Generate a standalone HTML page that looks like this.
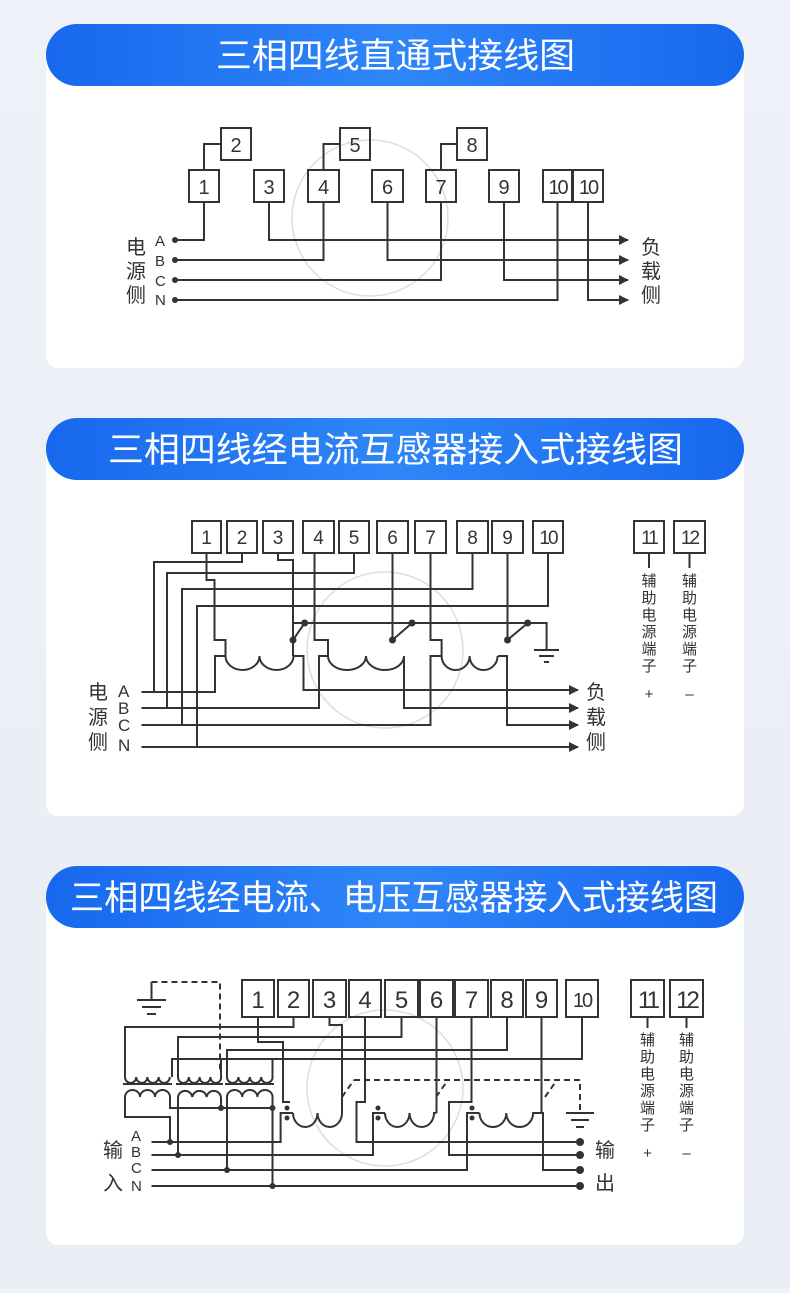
<!DOCTYPE html>
<html><head><meta charset="utf-8"><style>
body{margin:0;width:790px;height:1288px;background:linear-gradient(#eef1f7,#e9edf4);font-family:"Liberation Sans","Noto Sans CJK SC",sans-serif;overflow:hidden}
</style></head><body>
<svg width="790" height="1288" viewBox="0 0 790 1288" xmlns="http://www.w3.org/2000/svg" font-family="'Liberation Sans','Noto Sans CJK SC',sans-serif">
<defs>
<linearGradient id="hg" x1="0" x2="1" y1="0" y2="0"><stop offset="0" stop-color="#1768ee"/><stop offset="0.5" stop-color="#2f86f8"/><stop offset="1" stop-color="#1768ee"/></linearGradient>
<marker id="ar" markerWidth="10" markerHeight="10" refX="9" refY="5" orient="auto" markerUnits="userSpaceOnUse"><path d="M0,0 L10,5 L0,10 z" fill="#333"/></marker>
</defs>
<rect x="46" y="50" width="698" height="318" rx="12" fill="#fff"/>
<rect x="46" y="445" width="698" height="371" rx="12" fill="#fff"/>
<rect x="46" y="895" width="698" height="350" rx="12" fill="#fff"/>
<rect x="46" y="24" width="698" height="62" rx="31" fill="url(#hg)"/>
<text x="216" y="68" font-size="35" fill="#fff" textLength="359" lengthAdjust="spacingAndGlyphs">三相四线直通式接线图</text>
<rect x="46" y="418" width="698" height="62" rx="31" fill="url(#hg)"/>
<text x="108" y="462" font-size="35" fill="#fff" textLength="575" lengthAdjust="spacingAndGlyphs">三相四线经电流互感器接入式接线图</text>
<rect x="46" y="866" width="698" height="62" rx="31" fill="url(#hg)"/>
<text x="70" y="910" font-size="35" fill="#fff" textLength="648" lengthAdjust="spacingAndGlyphs">三相四线经电流、电压互感器接入式接线图</text>

<g fill="none" stroke="#ddd" stroke-width="1.5">
<circle cx="370" cy="218" r="78"/><circle cx="385" cy="650" r="78"/><circle cx="385" cy="1088" r="78"/>
</g>

<!-- Diagram 1 -->
<g fill="none" stroke="#333" stroke-width="2">
<rect x="189" y="170" width="30" height="32"/><rect x="221" y="128" width="30" height="32"/>
<rect x="254" y="170" width="30" height="32"/><rect x="308" y="170" width="31" height="32"/>
<rect x="340" y="128" width="30" height="32"/><rect x="372" y="170" width="31" height="32"/>
<rect x="426" y="170" width="30" height="32"/><rect x="457" y="128" width="30" height="32"/>
<rect x="489" y="170" width="30" height="32"/><rect x="543" y="170" width="29" height="32"/>
<rect x="573" y="170" width="30" height="32"/>
<path d="M204 170V144H221M204 202V240H175M323.5 170V144H340M323.5 202V260H175M441 170V144H457M441 202V280H175M557.5 202V300H175"/>
<path d="M269 202V240H628" marker-end="url(#ar)"/>
<path d="M387.5 202V260H628" marker-end="url(#ar)"/>
<path d="M504 202V280H628" marker-end="url(#ar)"/>
<path d="M588 202V300H628" marker-end="url(#ar)"/>
</g>
<g fill="#333"><circle cx="175" cy="240" r="3"/><circle cx="175" cy="260" r="3"/><circle cx="175" cy="280" r="3"/><circle cx="175" cy="300" r="3"/></g>
<g font-size="20" fill="#333" text-anchor="middle">
<text x="204" y="194">1</text><text x="236" y="152">2</text><text x="269" y="194">3</text><text x="323.5" y="194">4</text><text x="355" y="152">5</text><text x="387.5" y="194">6</text><text x="441" y="194">7</text><text x="472" y="152">8</text><text x="504" y="194">9</text><text x="557.5" y="194" letter-spacing="-2">10</text><text x="588" y="194" letter-spacing="-2">10</text>
</g>
<g font-size="20" fill="#333"><text x="126" y="254">电</text><text x="126" y="278">源</text><text x="126" y="302">侧</text>
<text x="641" y="254">负</text><text x="641" y="278">载</text><text x="641" y="302">侧</text></g>
<g font-size="15" fill="#333"><text x="155" y="246">A</text><text x="155" y="266">B</text><text x="155" y="286">C</text><text x="155" y="305">N</text></g>

<!-- Diagram 2 -->
<g fill="none" stroke="#333" stroke-width="2">
<rect x="192" y="521" width="29" height="32"/><rect x="227" y="521" width="30" height="32"/><rect x="263" y="521" width="30" height="32"/><rect x="303" y="521" width="31" height="32"/><rect x="339" y="521" width="30" height="32"/><rect x="377" y="521" width="31" height="32"/><rect x="415" y="521" width="31" height="32"/><rect x="457" y="521" width="31" height="32"/><rect x="492" y="521" width="31" height="32"/><rect x="533" y="521" width="30" height="32"/>
<rect x="634" y="521" width="30" height="32"/><rect x="674" y="521" width="31" height="32"/>
<path d="M649 553V568M689.5 553V568"/>
<path d="M206.5 553V580H214.5V640H225.5V656M141.5 692H215V656H225.5"/>
<path d="M225.5 656a17 14 0 0 0 34 0a17 14 0 0 0 34 0"/>
<path d="M278 553V560H293V640M293 656V640M293 623H546.6V650M534 650H559M539 656H554M544 662H549M293 640L304.7 623"/>
<path d="M314.5 553V640H328V656M141.5 708H319V656H328"/>
<path d="M328 656a19 14 0 0 0 38 0a19 14 0 0 0 38 0"/>
<path d="M392.5 553V640L412 623"/>
<path d="M430.5 553V640H441.6V656M141.5 725H430.5V656H441.6"/>
<path d="M441.6 656a14 14 0 0 0 28 0a14 14 0 0 0 28 0"/>
<path d="M507.5 553V640L527.7 623"/>
<path d="M242 553V562H154V692M354 553V573H167V708M472.5 553V589H182V725M548 553V606H197V747"/>
<path d="M293 656H303.5V690H578" marker-end="url(#ar)"/>
<path d="M404 656V708H578" marker-end="url(#ar)"/>
<path d="M498 656H507V725H578" marker-end="url(#ar)"/>
<path d="M141.5 747H578" marker-end="url(#ar)"/>
</g>
<g fill="#333"><circle cx="293" cy="640" r="3.5"/><circle cx="304.7" cy="623" r="3.5"/><circle cx="392.5" cy="640" r="3.5"/><circle cx="412" cy="623" r="3.5"/><circle cx="507.5" cy="640" r="3.5"/><circle cx="527.7" cy="623" r="3.5"/></g>
<g font-size="19" fill="#333" text-anchor="middle">
<text x="206.5" y="544">1</text><text x="242" y="544">2</text><text x="278" y="544">3</text><text x="318.5" y="544">4</text><text x="354" y="544">5</text><text x="392.5" y="544">6</text><text x="430.5" y="544">7</text><text x="472.5" y="544">8</text><text x="507.5" y="544">9</text><text x="548" y="544" letter-spacing="-2">10</text><text x="649" y="544" letter-spacing="-2">11</text><text x="689.5" y="544" letter-spacing="-2">12</text>
</g>
<g font-size="15" fill="#333" text-anchor="middle">
<text x="649" y="586">辅</text><text x="649" y="603">助</text><text x="649" y="620">电</text><text x="649" y="637">源</text><text x="649" y="654">端</text><text x="649" y="671">子</text><text x="649" y="699">+</text>
<text x="689.5" y="586">辅</text><text x="689.5" y="603">助</text><text x="689.5" y="620">电</text><text x="689.5" y="637">源</text><text x="689.5" y="654">端</text><text x="689.5" y="671">子</text><text x="689.5" y="699">–</text>
</g>
<g font-size="20" fill="#333"><text x="88" y="699">电</text><text x="88" y="724">源</text><text x="88" y="749">侧</text>
<text x="586" y="699">负</text><text x="586" y="724">载</text><text x="586" y="749">侧</text></g>
<g font-size="17" fill="#333"><text x="118" y="697">A</text><text x="118" y="714">B</text><text x="118" y="731">C</text><text x="118" y="751">N</text></g>

<!-- Diagram 3 -->
<g fill="none" stroke="#333" stroke-width="2">
<rect x="242" y="980" width="32" height="37"/><rect x="278" y="980" width="31" height="37"/><rect x="313" y="980" width="33" height="37"/><rect x="349" y="980" width="32" height="37"/><rect x="385" y="980" width="33" height="37"/><rect x="420" y="980" width="33" height="37"/><rect x="455" y="980" width="33" height="37"/><rect x="491" y="980" width="32" height="37"/><rect x="526" y="980" width="31" height="37"/><rect x="566" y="980" width="32" height="37"/>
<rect x="631" y="980" width="33" height="37"/><rect x="670" y="980" width="33" height="37"/>
<path d="M647.5 1017V1028M686.5 1017V1028"/>
<path d="M151.5 982V1000M137 1000H166M142 1007H161M147 1014H156"/>
<path d="M151.5 982H220V1070M354 1080H580V1113M342 1097L354 1080M436 1097L448 1080M545 1097L557 1080" stroke-dasharray="6 4"/>
<path d="M566 1113H594M571 1120H589M576 1127H584"/>
<path d="M125 1077a5.6 6 0 0 0 11.2 0a5.6 6 0 0 0 11.2 0a5.6 6 0 0 0 11.2 0a5.6 6 0 0 0 11.2 0"/>
<path d="M178 1077a5.4 6 0 0 0 10.8 0a5.4 6 0 0 0 10.8 0a5.4 6 0 0 0 10.8 0a5.4 6 0 0 0 10.8 0"/>
<path d="M227 1077a5.7 6 0 0 0 11.4 0a5.7 6 0 0 0 11.4 0a5.7 6 0 0 0 11.4 0a5.7 6 0 0 0 11.4 0"/>
<path d="M123 1084H172M176 1084H223M225 1084H274"/>
<path d="M125 1097a7.5 7 0 0 1 15 0a7.5 7 0 0 1 15 0a7.5 7 0 0 1 15 0"/>
<path d="M178 1097a7.2 7 0 0 1 14.3 0a7.2 7 0 0 1 14.3 0a7.2 7 0 0 1 14.3 0"/>
<path d="M227 1097a7.6 7 0 0 1 15.2 0a7.6 7 0 0 1 15.2 0a7.6 7 0 0 1 15.2 0"/>
<path d="M293.5 1017V1027H125V1077M401.5 1017V1037H178V1077M507 1017V1050H227V1077M582 1017V1059H172V1077M221 1059V1077M272.5 1059V1077"/>
<path d="M125 1097V1117H170V1142M170 1097V1108H272.5M221 1097V1108M178 1097V1155M227 1097V1170M272.5 1097V1186"/>
<path d="M258 1017V1042H283V1102H290M151.5 1142H280.6V1113H293"/>
<path d="M293 1113a12.25 14 0 0 0 24.5 0a12.25 14 0 0 0 24.5 0"/>
<path d="M329.5 1017V1025H342V1113"/>
<path d="M365 1017V1102H356.5V1142H580"/>
<path d="M436.5 1017V1113M151.5 1155H373V1113H385"/>
<path d="M385 1113a12.25 14 0 0 0 24.5 0a12.25 14 0 0 0 24.5 0H436.5"/>
<path d="M471.5 1017V1102H449V1155H580"/>
<path d="M151.5 1170H467V1113H479.5"/>
<path d="M479.5 1113a13.4 14 0 0 0 26.8 0a13.4 14 0 0 0 26.8 0H541.5V1017"/>
<path d="M533 1113H543V1170H580M151.5 1186H580"/>
</g>
<g fill="#333">
<circle cx="170" cy="1142" r="3"/><circle cx="178" cy="1155" r="3"/><circle cx="227" cy="1170" r="3"/><circle cx="272.5" cy="1186" r="3"/><circle cx="221" cy="1108" r="3"/><circle cx="272.5" cy="1108" r="3"/>
<circle cx="287" cy="1108" r="2.5"/><circle cx="287" cy="1118" r="2.5"/><circle cx="378" cy="1108" r="2.5"/><circle cx="378" cy="1118" r="2.5"/><circle cx="472" cy="1108" r="2.5"/><circle cx="472" cy="1118" r="2.5"/>
<circle cx="580" cy="1142" r="4"/><circle cx="580" cy="1155" r="4"/><circle cx="580" cy="1170" r="4"/><circle cx="580" cy="1186" r="4"/>
</g>
<g font-size="24" fill="#333" text-anchor="middle">
<text x="258" y="1008">1</text><text x="293.5" y="1008">2</text><text x="329.5" y="1008">3</text><text x="365" y="1008">4</text><text x="401.5" y="1008">5</text><text x="436.5" y="1008">6</text><text x="471.5" y="1008">7</text><text x="507" y="1008">8</text><text x="541.5" y="1008">9</text><text x="582" y="1007" font-size="20" letter-spacing="-2">10</text><text x="647.5" y="1008" letter-spacing="-3">11</text><text x="686.5" y="1008" letter-spacing="-3">12</text>
</g>
<g font-size="15" fill="#333" text-anchor="middle">
<text x="647.5" y="1045">辅</text><text x="647.5" y="1062">助</text><text x="647.5" y="1079">电</text><text x="647.5" y="1096">源</text><text x="647.5" y="1113">端</text><text x="647.5" y="1130">子</text><text x="647.5" y="1158">+</text>
<text x="686.5" y="1045">辅</text><text x="686.5" y="1062">助</text><text x="686.5" y="1079">电</text><text x="686.5" y="1096">源</text><text x="686.5" y="1113">端</text><text x="686.5" y="1130">子</text><text x="686.5" y="1158">–</text>
</g>
<g font-size="20" fill="#333"><text x="103" y="1157">输</text><text x="103" y="1190">入</text><text x="595" y="1157">输</text><text x="595" y="1190">出</text></g>
<g font-size="15" fill="#333"><text x="131" y="1141">A</text><text x="131" y="1157">B</text><text x="131" y="1173">C</text><text x="131" y="1191">N</text></g>
</svg>
</body></html>
